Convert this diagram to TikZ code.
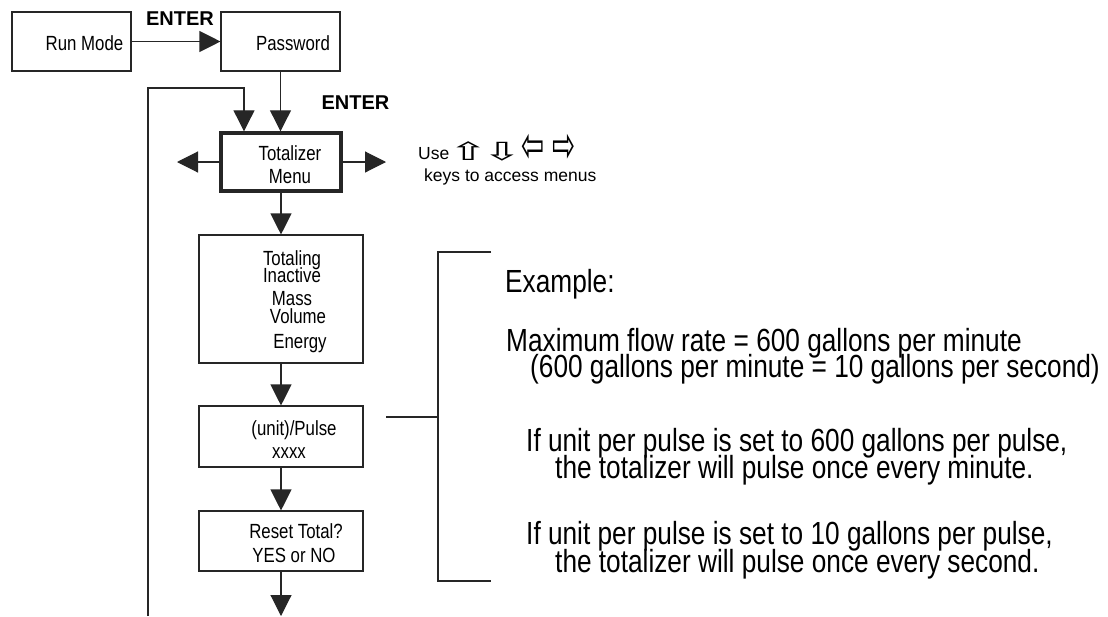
\documentclass[tikz,border=0pt]{standalone}
\usepackage{graphicx}
\usepackage{fontspec}
\setmainfont{Liberation Sans}
\newfontfamily\narrow[FakeStretch=0.82]{Liberation Sans}
\newfontfamily\dvs{DejaVu Sans}
\usetikzlibrary{arrows.meta}
\newcommand{\vkey}[1]{\raisebox{-1.5pt}{\scalebox{1.9}[1.0]{\dvs\fontsize{25}{25}\selectfont #1}}}
\newcommand{\hkey}[1]{\raisebox{-3pt}{\scalebox{1.15}[2.1]{\dvs\fontsize{24}{24}\selectfont #1}}}
\begin{document}
\begin{tikzpicture}[x=1pt,y=-1pt,
  ln/.style={draw=black!85,line width=1.1pt},
  arr/.style={ln,-{Triangle[length=21pt,width=21pt]}},
  box/.style={draw=black!85,line width=1.1pt,inner sep=0pt,fill=white},
  thickbox/.style={box,line width=3.4pt},
  btxt/.style={font=\narrow\fontsize{20.5}{23}\selectfont,inner sep=0pt,anchor=base},
  rtxt/.style={font=\narrow\fontsize{32}{34}\selectfont,inner sep=0pt,anchor=base west},
  enter/.style={font=\bfseries\fontsize{20}{22}\selectfont,inner sep=0pt,anchor=base},
  usetxt/.style={font=\fontsize{17.5}{19}\selectfont,inner sep=0pt,anchor=base west}]
\useasboundingbox (0,0) rectangle (1108,616);
\fill[white] (0,0) rectangle (1108,616);

% boxes
\node[box,minimum width=119pt,minimum height=59pt] (run) at (71.5,41.5) {};
\node[box,minimum width=119pt,minimum height=59pt] (pw) at (280.5,41.5) {};
\node[thickbox,minimum width=120pt,minimum height=58pt] (tot) at (281,162) {};
\node[box,minimum width=164pt,minimum height=128pt] (totg) at (281,299) {};
\node[box,minimum width=164pt,minimum height=61pt] (pulse) at (281,436.5) {};
\node[box,minimum width=164pt,minimum height=60pt] (reset) at (281,541) {};

% box texts
\node[btxt] (runT) at (84.5,50) {Run Mode};
\node[btxt] (pwT) at (293,50) {Password};
\node[btxt] (totT1) at (290,160) {Totalizer};
\node[btxt] (totT2) at (290,183) {Menu};
\node[btxt] (tg1) at (292,265) {Totaling};
\node[btxt] (tg2) at (292,282) {Inactive};
\node[btxt] (tg3) at (292,305) {Mass};
\node[btxt] (tg4) at (298,323) {Volume};
\node[btxt] (tg5) at (300,348) {Energy};
\node[btxt] (puT1) at (294,435) {(unit)/Pulse};
\node[btxt] (puT2) at (289,458) {xxxx};
\node[btxt] (reT1) at (296,538) {Reset Total?};
\node[btxt] (reT2) at (294,562) {YES or NO};

% ENTER labels
\node[enter] (ent1) at (180,25) {ENTER};
\node[enter] (ent2) at (355.5,109) {ENTER};

% connectors
\draw[arr] (run.east) -- (pw.west);
\draw[arr] (pw.south) -- (pw.south |- tot.north);
\coordinate (loopbot) at (148,616);
\coordinate (loopc) at (244,88);
\draw[arr] (loopbot) |- (loopc) -- (loopc |- tot.north);
\coordinate (lt) at (177,162);
\coordinate (rt) at (386,162);
\draw[arr] (tot.west) -- (lt);
\draw[arr] (tot.east) -- (rt);
\draw[arr] (tot.south) -- (totg.north);
\draw[arr] (totg.south) -- (pulse.north);
\draw[arr] (pulse.south) -- (reset.north);
\coordinate (bot) at (281,616);
\draw[arr] (reset.south) -- (bot);

% Use keys text
\node[usetxt] (use) at (418,159) {Use\hspace{-1pt}\vkey{⇧}\hspace{-6pt}\vkey{⇩}\hspace{0pt}\hkey{⇦}\hspace{7pt}\hkey{⇨}};
\node[usetxt] (keys) at (424,181) {keys to access menus};

% bracket
\coordinate (b0) at (386,417);
\coordinate (b1) at (438,417);
\coordinate (bt) at (438,252);
\coordinate (bb) at (438,581);
\coordinate (btr) at (491,252);
\coordinate (bbr) at (491,581);
\draw[ln] (b0) -- (b1);
\draw[ln] (btr) -- (bt) -- (bb) -- (bbr);

% example text
\node[rtxt] (ex) at (505,292) {Example:};
\node[rtxt] (m1) at (506,351) {Maximum flow rate = 600 gallons per minute};
\node[rtxt] (m2) at (530,377) {(600 gallons per minute = 10 gallons per second)};
\node[rtxt] (p1) at (526,451) {If unit per pulse is set to 600 gallons per pulse,};
\node[rtxt] (p2) at (555,478) {the totalizer will pulse once every minute.};
\node[rtxt] (s1) at (526,544) {If unit per pulse is set to 10 gallons per pulse,};
\node[rtxt] (s2) at (555,572) {the totalizer will pulse once every second.};
\end{tikzpicture}
\end{document}
